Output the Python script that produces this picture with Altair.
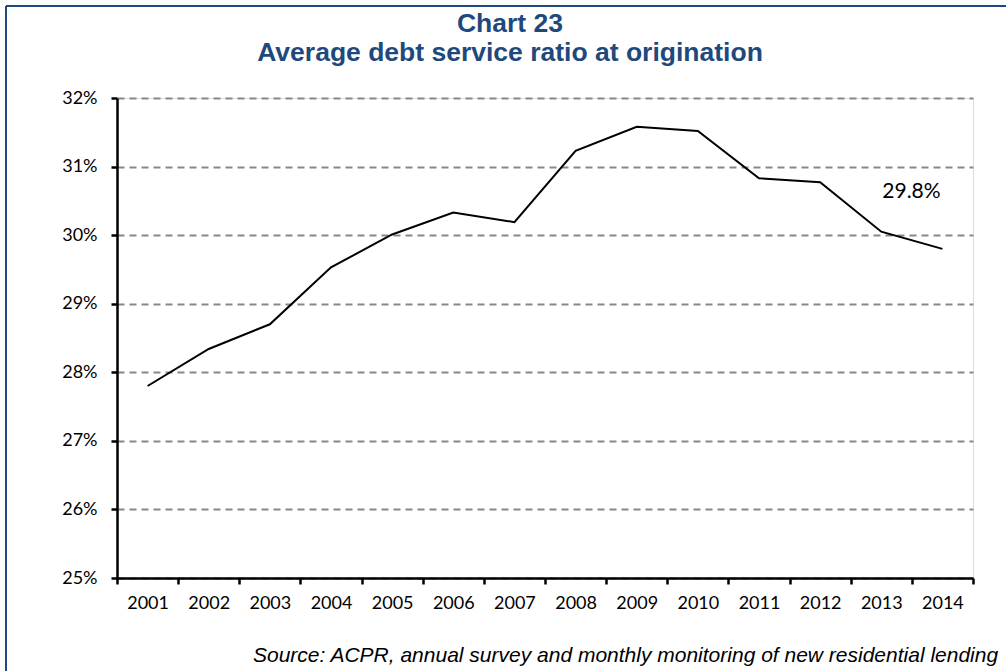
import altair as alt
import pandas as pd

# Series: average debt service ratio at origination (%)
years = ["2001", "2002", "2003", "2004", "2005", "2006", "2007",
         "2008", "2009", "2010", "2011", "2012", "2013", "2014"]
ratio = [27.80, 28.34, 28.70, 29.53, 30.01, 30.33, 30.19,
         31.23, 31.58, 31.52, 30.83, 30.77, 30.05, 29.8]
y_ticks = [25, 26, 27, 28, 29, 30, 31, 32]

title_lines = ["Chart 23", "Average debt service ratio at origination"]
source_note = "Source: ACPR, annual survey and monthly monitoring of new residential lending"

W, H = 856, 480
PAD = {"left": 117, "top": 98, "right": 33, "bottom": 93}
NAVY = "#1F497D"

df = pd.DataFrame({"year": years, "ratio": ratio})

x_enc = alt.X(
    "year:O",
    scale=alt.Scale(type="band", paddingInner=0, paddingOuter=0),
    axis=alt.Axis(
        title=None, labelAngle=0, tickBand="extent", grid=False,
        domainColor="black", domainWidth=2.5,
        tickColor="black", tickWidth=2.5, tickSize=6,
        labelFont="Lato", labelFontSize=18, labelColor="black",
        labelPadding=10,
    ),
)
y_enc = alt.Y(
    "ratio:Q",
    scale=alt.Scale(domain=[25, 32], nice=False, zero=False),
    axis=alt.Axis(
        title=None, values=y_ticks, labelExpr="datum.value + '%'",
        grid=True, gridColor="#888888", gridDash=[7, 5], gridWidth=1.8,
        domainColor="black", domainWidth=2.5,
        tickColor="black", tickWidth=2.5, tickSize=6,
        labelFont="Lato", labelFontSize=18, labelColor="black",
        labelPadding=14,
    ),
)

line = alt.Chart(df).mark_line(color="black", strokeWidth=2).encode(x=x_enc, y=y_enc)

# Value label for the latest year
last = (
    alt.Chart(df.tail(1))
    .transform_calculate(label="format(datum.ratio, '.1f') + '%'")
    .mark_text(dx=-31, dy=-57, font="Lato", fontSize=21, color="black")
    .encode(x="year:O", y="ratio:Q", text="label:N")
)

# Two-line heading
heading = [
    alt.Chart(pd.DataFrame({"t": [txt]}))
    .mark_text(font="Liberation Sans", fontWeight="bold", fontSize=26.5,
               color=NAVY, align="center", baseline="middle")
    .encode(x=alt.value(393), y=alt.value(yy), text="t:N")
    for txt, yy in zip(title_lines, [-74, -45])
]

source = (
    alt.Chart(pd.DataFrame({"t": [source_note]}))
    .mark_text(font="Liberation Sans", fontStyle="italic", fontSize=21,
               color="black", align="left", baseline="middle")
    .encode(x=alt.value(136), y=alt.value(558), text="t:N")
)

# Frame around the figure (left and top edges)
frame_top = (
    alt.Chart(pd.DataFrame({"k": [0]}))
    .mark_rule(color=NAVY, strokeWidth=2)
    .encode(x=alt.value(-111), x2=alt.value(900), y=alt.value(-92))
)
frame_left = (
    alt.Chart(pd.DataFrame({"k": [0]}))
    .mark_rule(color=NAVY, strokeWidth=2)
    .encode(x=alt.value(-111), y=alt.value(-92), y2=alt.value(580))
)

chart = (
    alt.layer(line, last, *heading, source, frame_top, frame_left)
    .properties(width=W, height=H, padding=PAD,
                autosize=alt.AutoSizeParams(type="none"))
    .configure_view(stroke=None)
    .configure(background="white")
)

chart.save("out.html", embed_options={"renderer": "svg", "actions": False})
